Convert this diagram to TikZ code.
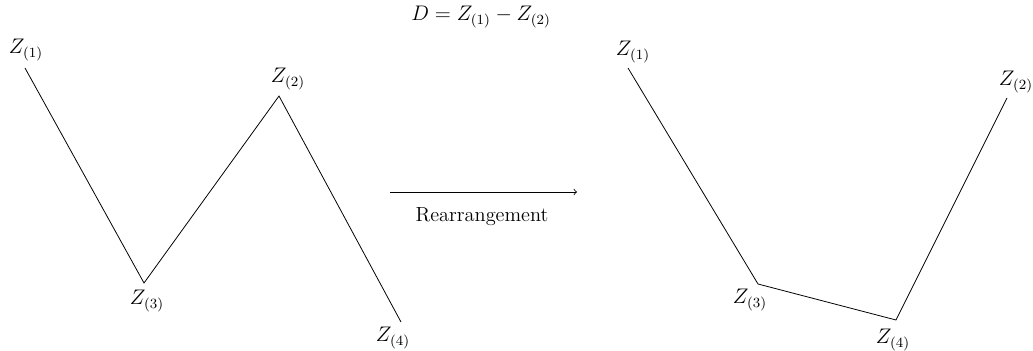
\documentclass[tikz,border=0pt]{standalone}
\usetikzlibrary{positioning}
\tikzset{
  lbl/.style={inner sep=0pt},
  seg/.style={line width=0.45pt},
}
\begin{document}
\begin{tikzpicture}[x=0.02cm, y=-0.02cm, font=\fontsize{11.6}{14}\selectfont]
  \useasboundingbox (0,0) rectangle (1033,351);

  % --- 並べ替え前 ---
  \coordinate (A1) at (25,68);
  \coordinate (A3) at (144,283);
  \coordinate (A2) at (279,96);
  \coordinate (A4) at (401,322);
  \draw[seg] (A1) -- (A3) -- (A2) -- (A4);
  \node[lbl] (a1) at (26,50) {$Z_{(1)}$};
  \node[lbl] (a2) at (288,79) {$Z_{(2)}$};
  \node[lbl] (a3) at (147,301) {$Z_{(3)}$};
  \node[lbl] (a4) at (393,338) {$Z_{(4)}$};

  % --- 中央: 式と矢印 ---
  \node[lbl] (dfm) at (481,17) {$D = Z_{(1)} - Z_{(2)}$};
  \coordinate (L) at (390,192);
  \coordinate (R) at (577,192);
  \draw[->, seg] (L) -- (R);
  \node[lbl] (rearr) at (482,217) {Rearrangement};

  % --- 並べ替え後 ---
  \coordinate (B1) at (628,68);
  \coordinate (B3) at (758,284);
  \coordinate (B4) at (896,320);
  \coordinate (B2) at (1007,98);
  \draw[seg] (B1) -- (B3) -- (B4) -- (B2);
  \node[lbl] (b1) at (633,52) {$Z_{(1)}$};
  \node[lbl] (b2) at (1016,82) {$Z_{(2)}$};
  \node[lbl] (b3) at (750,300) {$Z_{(3)}$};
  \node[lbl] (b4) at (893,340) {$Z_{(4)}$};
\end{tikzpicture}
\end{document}
